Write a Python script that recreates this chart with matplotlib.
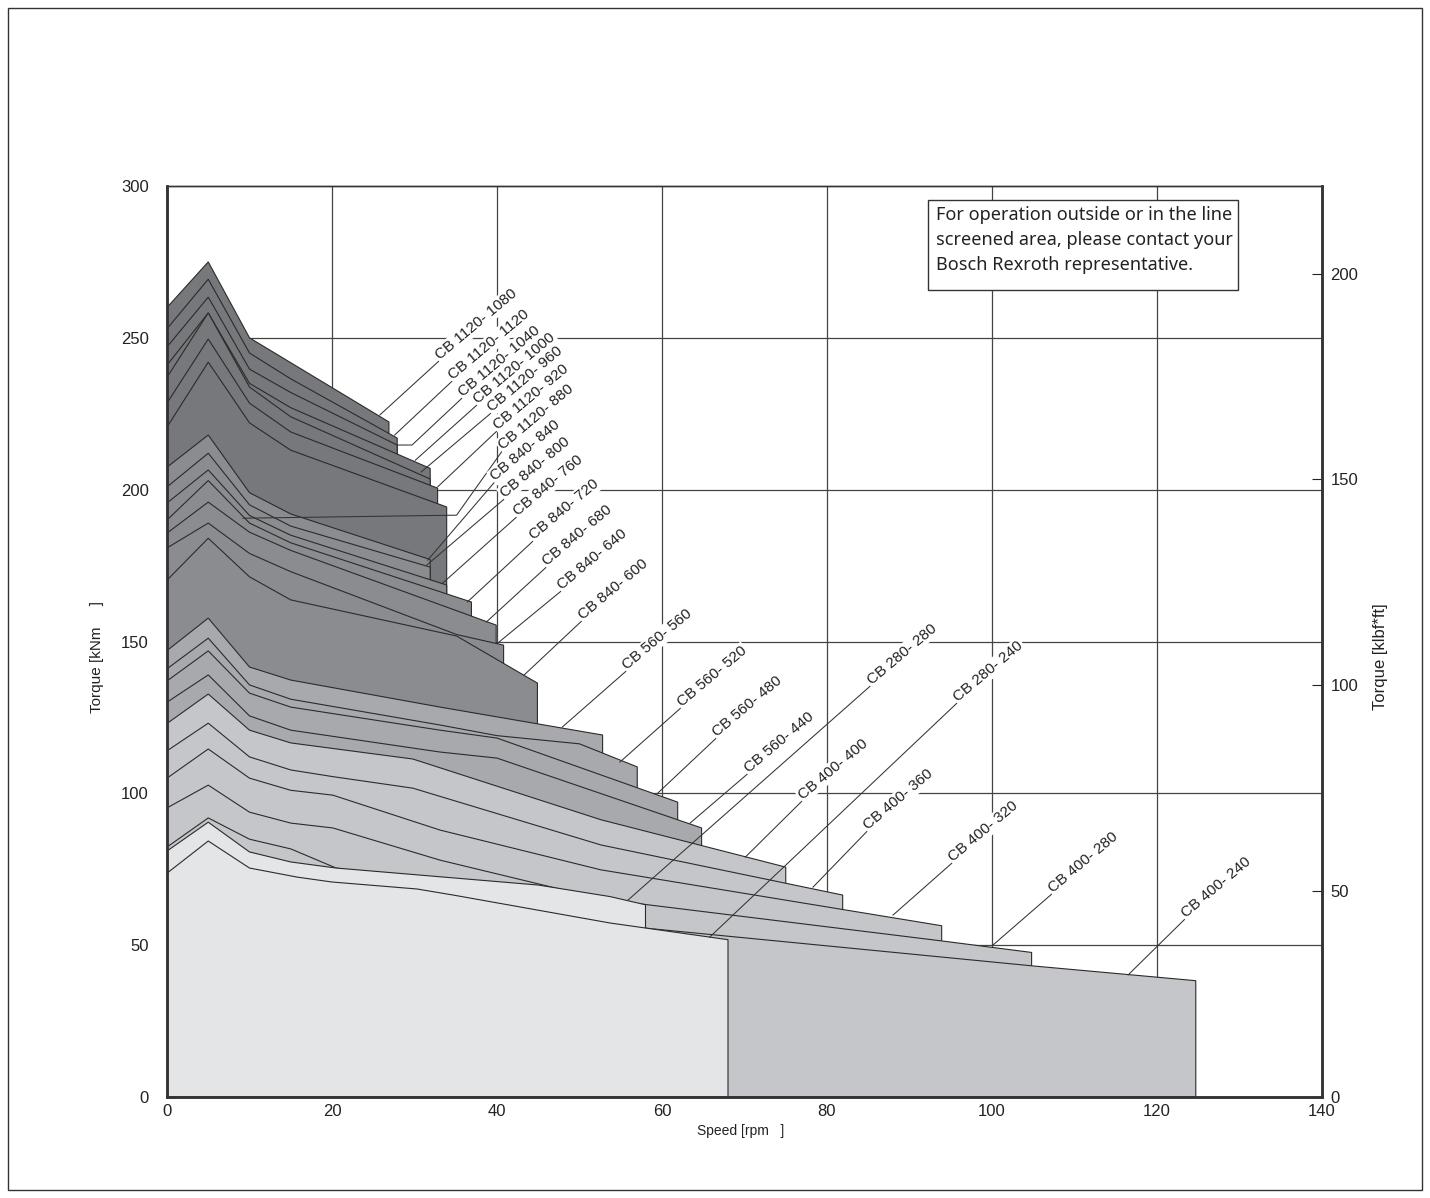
import numpy as np
import matplotlib.pyplot as plt
from matplotlib.patches import Rectangle

# Operating envelopes: speed [rpm] vs torque [kNm], one polyline per motor
cb1120_names = ["CB 1120- 1080", "CB 1120- 1120", "CB 1120- 1040", "CB 1120- 1000",
                "CB 1120- 960", "CB 1120- 920", "CB 1120- 880"]
cb1120_speed = [[0, 5, 10, 26.9],
                [0, 5, 10, 15, 27.9],
                [0, 5, 10, 15, 27.9],
                [0, 5, 10, 15, 31.9],
                [0, 5, 10, 15, 31.9],
                [0, 5, 10, 15, 32.8],
                [0, 5, 10, 15, 33.9]]
cb1120_torque = [[260, 275, 250, 222.3],
                 [253, 269.3, 245, 236.5, 217],
                 [247, 263.4, 239.7, 232, 214.7],
                 [241, 258.2, 235, 227, 207],
                 [237, 258.2, 233.8, 224, 203.5],
                 [228.5, 249.6, 228.5, 219, 200.5],
                 [220.6, 242, 222, 213, 194.3]]

cb840_names = ["CB 840- 840", "CB 840- 800", "CB 840- 760", "CB 840- 720",
               "CB 840- 680", "CB 840- 640", "CB 840- 600"]
cb840_speed = [[0, 5, 10, 15, 31.9],
               [0, 5, 10, 15, 31.9],
               [0, 5, 10, 15, 33.9],
               [0, 5, 10, 15, 36.9],
               [0, 5, 10, 15, 39.9],
               [0, 5, 10, 15, 35.1, 40.8],
               [0, 5, 10, 15, 35.1, 44.9]]
cb840_torque = [[207.4, 218, 199, 192, 177],
                [200.9, 212, 195, 188, 174.5],
                [195.6, 206.5, 191.5, 185, 168.6],
                [190, 203, 189, 182.5, 163],
                [185.7, 195.9, 186, 180, 155.4],
                [180.8, 189, 179, 173, 152.3, 148.8],
                [170.2, 184, 171.3, 163.7, 151.8, 136.3]]

cb560_names = ["CB 560- 560", "CB 560- 520", "CB 560- 480", "CB 560- 440"]
cb560_speed = [[0, 5, 10, 15, 33.1, 52.8],
               [0, 5, 10, 15, 33.1, 40, 50, 57.0],
               [0, 5, 10, 15, 33.1, 40, 61.9],
               [0, 5, 10, 15, 33.1, 40, 64.8]]
cb560_torque = [[147, 157.7, 141.6, 137.3, 128.4, 119.2],
                [141, 151.1, 135.7, 131, 122.5, 119, 116.3, 108.7],
                [137, 146.9, 133, 128.4, 120.8, 118.2, 97.1],
                [130, 139, 125.5, 120.8, 113.6, 111.6, 88.6]]

cb400_names = ["CB 400- 400", "CB 400- 360", "CB 400- 320", "CB 400- 280", "CB 400- 240"]
cb400_speed = [[0, 5, 10, 15, 29.8, 52.6, 75.0],
               [0, 5, 10, 15, 20.1, 29.8, 52.6, 81.9],
               [0, 5, 10, 15, 20.1, 33.1, 52.6, 93.9],
               [0, 5, 10, 15, 20.1, 33.1, 52.6, 93.9, 104.8],
               [0, 5, 10, 15, 20.5, 40, 58, 104.8, 124.7]]
cb400_torque = [[123, 132.7, 120.8, 116.6, 111.3, 91.3, 75.7],
                [114, 123.1, 112, 107.7, 105.5, 101.7, 83, 66.5],
                [105, 114.6, 105, 101, 99.4, 87.9, 74.8, 56.4],
                [95.2, 102.7, 93.8, 90.2, 88.6, 78, 65.2, 51.4, 47.6],
                [82.3, 91.9, 84.9, 81.7, 75.4, 67.5, 55.6, 43.2, 38.3]]

cb280_names = ["CB 280- 280", "CB 280- 240"]
cb280_speed = [[0, 5, 10, 15, 20.5, 45, 53.7, 58],
               [0, 5, 10, 15.8, 20, 30.3, 34.7, 53.7, 68]]
cb280_torque = [[81, 90.5, 80.7, 77.4, 75.4, 69.8, 66, 63.3],
                [73.7, 84.3, 75.4, 72.4, 70.8, 68.5, 66.5, 57.3, 51.8]]

KNM_TO_KLBFFT = 0.737562

# groups drawn back to front
groups = [(cb1120_names, cb1120_speed, cb1120_torque, '#77787c'),
          (cb840_names, cb840_speed, cb840_torque, '#8b8c90'),
          (cb560_names, cb560_speed, cb560_torque, '#a8a9ad'),
          (cb400_names, cb400_speed, cb400_torque, '#c5c6c9'),
          (cb280_names, cb280_speed, cb280_torque, '#e4e5e7')]

# label placement: text start, leader target, optional elbow (data coords)
label_layout = {
    "CB 1120- 1080": ((33.1, 242.7), (25.8, 224.6), None),
    "CB 1120- 1120": ((34.7, 236.1), (27.6, 218.0), None),
    "CB 1120- 1040": ((35.9, 230.5), (27.9, 214.7), (29.7, 214.7)),
    "CB 1120- 1000": ((37.7, 228.2), (30.1, 209.7), None),
    "CB 1120- 960": ((39.4, 225.5), (30.8, 205.8), None),
    "CB 1120- 920": ((40.1, 219.6), (32.8, 200.9), None),
    "CB 1120- 880": ((40.7, 213.0), (9.2, 190.6), (35.1, 191.6)),
    "CB 840- 840": ((39.8, 202.8), (31.6, 176.8), None),
    "CB 840- 800": ((41.0, 197.2), (31.5, 175.2), None),
    "CB 840- 760": ((42.5, 191.3), (33.4, 169.2), None),
    "CB 840- 720": ((44.5, 183.4), (36.4, 163.0), None),
    "CB 840- 680": ((46.1, 174.8), (38.7, 156.4), None),
    "CB 840- 640": ((47.9, 166.9), (40.1, 149.5), None),
    "CB 840- 600": ((50.4, 157.1), (43.3, 139.0), None),
    "CB 560- 560": ((55.8, 140.6), (47.9, 121.8), None),
    "CB 560- 520": ((62.4, 128.4), (54.9, 110.3), None),
    "CB 560- 480": ((66.7, 118.5), (59.5, 100.1), None),
    "CB 560- 440": ((70.5, 106.7), (63.4, 90.2), None),
    "CB 400- 400": ((77.1, 97.8), (70.1, 79.0), None),
    "CB 400- 360": ((85.0, 87.9), (78.3, 69.1), None),
    "CB 400- 320": ((95.3, 77.4), (88.0, 59.9), None),
    "CB 400- 280": ((107.4, 67.2), (100.1, 50.0), None),
    "CB 400- 240": ((123.5, 58.9), (116.5, 40.2), None),
    "CB 280- 280": ((85.4, 135.7), (55.9, 64.9), None),
    "CB 280- 240": ((95.9, 130.1), (65.8, 52.7), None),
}

plt.rcParams['font.family'] = ['Liberation Sans', 'DejaVu Sans']

fig = plt.figure(figsize=(14.3, 11.98), dpi=100)
ax = fig.add_axes([167/1430, 101/1198, 1155/1430, 911/1198])
ax.set_xlim(0, 140)
ax.set_ylim(0, 300)

for gx in range(20, 140, 20):
    ax.axvline(gx, color='#444444', lw=0.9, zorder=1)
for gy in range(50, 300, 50):
    ax.axhline(gy, color='#444444', lw=0.9, zorder=1)

for names, speeds, torques, fc in groups:
    for xs, ys in zip(speeds, torques):
        px = [0] + list(xs) + [xs[-1]]
        py = [0] + list(ys) + [0]
        ax.fill(px, py, facecolor=fc, edgecolor='#2b2b2b', lw=0.8, zorder=2)

for names, speeds, torques, fc in groups:
    for name in names:
        start, target, elbow = label_layout[name]
        pts = [target] + ([elbow] if elbow else []) + [start]
        ax.plot([p[0] for p in pts], [p[1] for p in pts], color='#333333', lw=0.75, zorder=4)
        # white mask hides gridlines behind the label
        ax.text(start[0], start[1], name, rotation=40, rotation_mode='anchor', ha='left',
                va='baseline', fontsize=11, color='white', zorder=5,
                bbox=dict(boxstyle='square,pad=0.1', fc='white', ec='none'))
        ax.text(start[0], start[1], name, rotation=40, rotation_mode='anchor', ha='left',
                va='baseline', fontsize=11, color='#222222', zorder=6)

# note box
ax.add_patch(Rectangle((92.2, 265.7), 37.6, 29.7, fc='white', ec='#333333', lw=1, zorder=3))
ax.text(93.2, 293.3, "For operation outside or in the line\nscreened area, please contact your\nBosch Rexroth representative.",
        family='Noto Sans', fontsize=13, va='top', ha='left', linespacing=1.5, color='#222222', zorder=4)

ax.set_xticks(range(0, 141, 20))
ax.set_yticks(range(0, 301, 50))
ax.tick_params(axis='both', length=0, labelsize=12, colors='#222222')
ax.tick_params(axis='y', pad=13)
ax.tick_params(axis='x', pad=5)

ax2 = ax.twinx()
ax2.set_ylim(0, 300 * KNM_TO_KLBFFT)
ax2.set_yticks([0, 50, 100, 150, 200])
ax2.tick_params(axis='y', direction='in', length=7, width=0.8, pad=6, labelsize=12, colors='#222222')

for a in (ax, ax2):
    for side in ['left', 'bottom', 'right']:
        a.spines[side].set_linewidth(1.8)
        a.spines[side].set_color('#333333')
    a.spines['top'].set_linewidth(1.0)
    a.spines['top'].set_color('#333333')

fig.text(97/1430, 1 - 657/1198, "Torque [kNm     ]", rotation=90, ha='center', va='center', fontsize=11, color='#222222')
fig.text(1381/1430, 1 - 657/1198, "Torque [klbf*ft]", rotation=90, ha='center', va='center', fontsize=12, color='#222222')
fig.text(741/1430, 1 - 1131/1198, "Speed [rpm   ]", ha='center', va='center', fontsize=10, color='#222222')

fig.add_artist(Rectangle((8/1430, 8/1198), 1414/1430, 1182/1198, transform=fig.transFigure,
                         fill=False, ec='#333333', lw=1))

fig.savefig('out.png', dpi=100)
